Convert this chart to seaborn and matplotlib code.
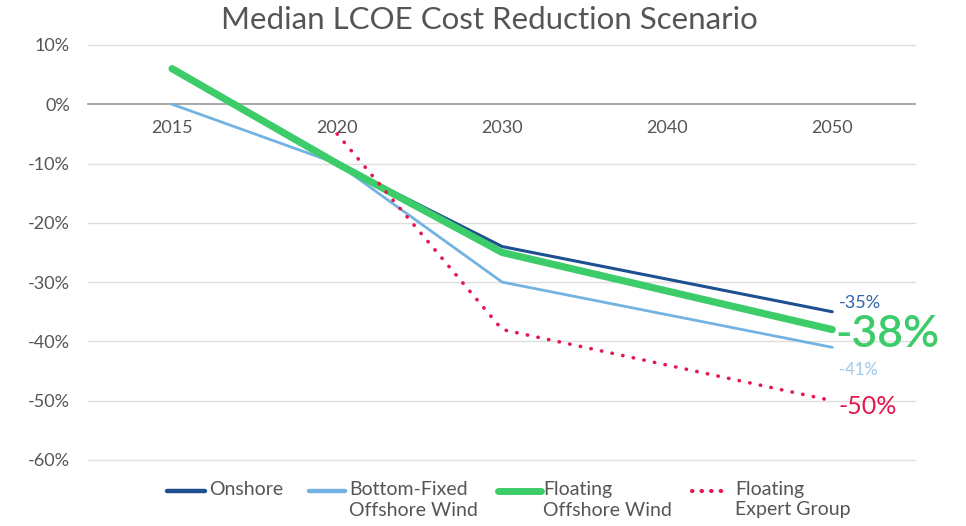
import numpy as np
import pandas as pd
import matplotlib
matplotlib.use("Agg")
import matplotlib.pyplot as plt
from matplotlib.lines import Line2D
import seaborn as sns

years = ["2015", "2020", "2030", "2040", "2050"]
onshore = [np.nan, -10, -24, -29.5, -35]
bottom_fixed = [0, -10, -30, -35.5, -41]
floating = [6, -10, -25, -31.5, -38]
expert = [np.nan, -5, -38, -44, -50]
yticks = [10, 0, -10, -20, -30, -40, -50, -60]

series_names = ["Onshore", "Bottom-Fixed\nOffshore Wind", "Floating\nOffshore Wind", "Floating\nExpert Group"]
end_labels = ["-35%", "-41%", "-38%", "-50%"]

C_ON = "#1d4f91"
C_BF = "#72b3e2"
C_FL = "#3dcc6a"
C_EX = "#e5174c"
GRAY = "#555555"

sns.set_theme(style="white")
plt.rcParams["font.family"] = ["Lato", "DejaVu Sans"]

fig = plt.figure(figsize=(9.66, 5.26), dpi=100)
ax = fig.add_axes([0.091, 0.1255, 0.856, 0.789])

pos = np.arange(len(years))
df = pd.DataFrame({"pos": pos, "on": onshore, "bf": bottom_fixed, "fl": floating, "ex": expert})

sns.lineplot(data=df, x="pos", y="bf", ax=ax, color=C_BF, linewidth=2.0, zorder=3)
sns.lineplot(data=df, x="pos", y="on", ax=ax, color=C_ON, linewidth=2.2, zorder=4)
sns.lineplot(data=df, x="pos", y="fl", ax=ax, color=C_FL, linewidth=5.2, zorder=5,
             solid_capstyle="round")
sns.lineplot(data=df, x="pos", y="ex", ax=ax, color=C_EX, linewidth=2.6, zorder=6,
             linestyle=(0, (0.1, 2.9)), dash_capstyle="round")

for s in ["top", "right", "left"]:
    ax.spines[s].set_visible(False)
ax.spines["bottom"].set_position(("data", 0))
ax.spines["bottom"].set_color("#9a9a9a")
ax.spines["bottom"].set_linewidth(1.2)

ax.set_xlim(-0.51, 4.5)
ax.set_ylim(-60, 10)
ax.set_yticks(yticks)
ax.set_yticklabels([f"{v}%" for v in yticks])
ax.set_xticks(pos)
ax.set_xticklabels(years)
ax.set_xlabel("")
ax.set_ylabel("")
ax.tick_params(axis="both", length=0, labelsize=13, labelcolor=GRAY)
ax.tick_params(axis="x", pad=11)
ax.tick_params(axis="y", pad=13)

for v in yticks:
    if v != 0:
        ax.axhline(v, color="#dddddd", linewidth=1.0, zorder=1, clip_on=False)

# end labels
ax.text(4.04, -33.6, end_labels[0], color="#2f64a8", fontsize=13, va="center", ha="left")
ax.text(4.02, -38.9, end_labels[2], color=C_FL, fontsize=32, fontweight="semibold", va="center", ha="left")
ax.text(4.04, -44.8, end_labels[1], color="#9cc8ea", fontsize=12, va="center", ha="left")
ax.text(4.04, -51.0, end_labels[3], color=C_EX, fontsize=18, va="center", ha="left")

fig.text(0.507, 0.962, "Median LCOE Cost Reduction Scenario", ha="center", va="center",
         fontsize=22.5, color=GRAY)

# legend (manual, handle aligned with first text line)
W, H = 966, 526
legend_items = [
    (167, 205, 209, C_ON, 3.2, "-"),
    (309, 345, 349, C_BF, 3.2, "-"),
    (498, 541, 543, C_FL, 5.0, "-"),
    (692, 727, 735, C_EX, 3.0, (0, (0.1, 2.2))),
]
ly = 491
for (x0, x1, tx, col, lw, ls), name in zip(legend_items, series_names):
    ln = Line2D([x0 / W, x1 / W], [1 - ly / H, 1 - ly / H], transform=fig.transFigure,
                color=col, linewidth=lw, linestyle=ls, solid_capstyle="round", dash_capstyle="round")
    fig.add_artist(ln)
    fig.text(tx / W, 1 - (ly - 10) / H, name, ha="left", va="top", fontsize=14,
             color=GRAY, linespacing=1.25)

fig.savefig("out.png", dpi=100, facecolor="white")
